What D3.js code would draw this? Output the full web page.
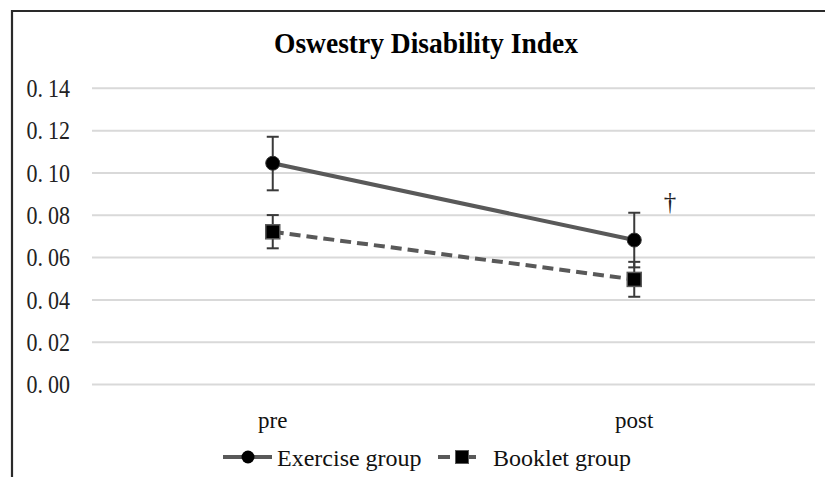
<!DOCTYPE html>
<html>
<head>
<meta charset="utf-8">
<script src="https://cdn.jsdelivr.net/npm/d3@7/dist/d3.min.js"></script>
<style>
  html, body { margin: 0; padding: 0; background: #fff; }
  svg { display: block; }
</style>
</head>
<body>
<svg id="chart" width="825" height="477"></svg>
<script>
// Time points and group means with error ranges
const phases = ["pre", "post"];
const exerciseMean = [0.1046, 0.0683];
const exerciseLow  = [0.0918, 0.0554];
const exerciseHigh = [0.1171, 0.0812];
const bookletMean  = [0.0722, 0.0497];
const bookletLow   = [0.0644, 0.0415];
const bookletHigh  = [0.0801, 0.0580];
const yTicks = [0.00, 0.02, 0.04, 0.06, 0.08, 0.10, 0.12, 0.14];
const seriesNames = ["Exercise group", "Booklet group"];

const svg = d3.select("#chart");
const serif = "'Liberation Serif', 'Times New Roman', serif";

// outer frame (top and left edges)
svg.append("path")
  .attr("d", "M12,477 L12,11 L825,11")
  .attr("fill", "none").attr("stroke", "#2a2a2a").attr("stroke-width", 2.2);

svg.append("text")
  .attr("x", 426).attr("y", 53)
  .attr("text-anchor", "middle")
  .attr("font-family", serif).attr("font-weight", "bold").attr("font-size", 27.5)
  .attr("fill", "#000")
  .attr("transform", "translate(426,53) scale(1,1.08) translate(-426,-53)")
  .text("Oswestry Disability Index");

const x = d3.scaleBand().domain(phases).range([92, 815]);
const y = d3.scaleLinear().domain([0, 0.14]).range([384.6, 88.3]);
const cx = d => x(d) + x.bandwidth() / 2;

// gridlines
svg.append("g").selectAll("line").data(yTicks).join("line")
  .attr("x1", 92).attr("x2", 815)
  .attr("y1", d => y(d)).attr("y2", d => y(d))
  .attr("stroke", "#d9d9d9").attr("stroke-width", 2);

// y axis labels
const yAxis = d3.axisLeft(y).tickValues(yTicks).tickSize(0).tickPadding(0)
  .tickFormat(d3.format(".2f"));
const gy = svg.append("g").attr("transform", "translate(70,0)").call(yAxis);
gy.select(".domain").remove();
gy.selectAll(".tick text")
  .attr("font-family", serif).attr("font-size", 22).attr("fill", "#222")
  .attr("dy", "0.33em")
  .attr("transform", "scale(1,1.12)")
  .each(function () {
    const s = d3.select(this).text();
    const [a, b] = s.split(".");
    const t = d3.select(this).text(null);
    t.append("tspan").text(a + ".");
    t.append("tspan").attr("dx", 5).text(b);
  });

// x axis labels
const xAxis = d3.axisBottom(x).tickSize(0).tickPadding(0);
const gx = svg.append("g").attr("transform", "translate(0,412)").call(xAxis);
gx.select(".domain").remove();
gx.selectAll("text")
  .attr("font-family", serif).attr("font-size", 23).attr("fill", "#111")
  .attr("dy", "0.7em");

const exercise = phases.map((p, i) => ({ p, m: exerciseMean[i], lo: exerciseLow[i], hi: exerciseHigh[i] }));
const booklet  = phases.map((p, i) => ({ p, m: bookletMean[i], lo: bookletLow[i], hi: bookletHigh[i] }));

const line = d3.line().x(d => cx(d.p)).y(d => y(d.m));

svg.append("path").datum(booklet).attr("d", line)
  .attr("fill", "none").attr("stroke", "#595959").attr("stroke-width", 4)
  .attr("stroke-dasharray", "11,6");
svg.append("path").datum(exercise).attr("d", line)
  .attr("fill", "none").attr("stroke", "#595959").attr("stroke-width", 4);

function errorBars(data) {
  const g = svg.append("g").attr("stroke", "#3a3a3a").attr("stroke-width", 2);
  data.forEach(d => {
    const px = cx(d.p);
    g.append("line").attr("x1", px).attr("x2", px).attr("y1", y(d.hi)).attr("y2", y(d.lo));
    g.append("line").attr("x1", px - 6).attr("x2", px + 6).attr("y1", y(d.hi)).attr("y2", y(d.hi));
    g.append("line").attr("x1", px - 6).attr("x2", px + 6).attr("y1", y(d.lo)).attr("y2", y(d.lo));
  });
}
errorBars(booklet);
errorBars(exercise);

// markers
svg.append("g").selectAll("rect").data(booklet).join("rect")
  .attr("x", d => cx(d.p) - 7).attr("y", d => y(d.m) - 7)
  .attr("width", 14).attr("height", 14)
  .attr("fill", "#000").attr("stroke", "#595959").attr("stroke-width", 1.5);
svg.append("g").selectAll("circle").data(exercise).join("circle")
  .attr("cx", d => cx(d.p)).attr("cy", d => y(d.m)).attr("r", 7)
  .attr("fill", "#000").attr("stroke", "#333").attr("stroke-width", 1);

// significance mark
svg.append("text")
  .attr("x", 670).attr("y", 210)
  .attr("text-anchor", "middle")
  .attr("font-family", serif).attr("font-size", 25).attr("fill", "#222")
  .text("†");

// legend
const lg = svg.append("g");
lg.append("line").attr("x1", 223).attr("x2", 272).attr("y1", 457).attr("y2", 457)
  .attr("stroke", "#595959").attr("stroke-width", 4);
lg.append("circle").attr("cx", 248).attr("cy", 457).attr("r", 6.5).attr("fill", "#000");
lg.append("text").attr("x", 277).attr("y", 466)
  .attr("font-family", serif).attr("font-size", 24).attr("fill", "#111")
  .text(seriesNames[0]);

lg.append("line").attr("x1", 438).attr("x2", 488).attr("y1", 457).attr("y2", 457)
  .attr("stroke", "#595959").attr("stroke-width", 4).attr("stroke-dasharray", "12,14");
lg.append("rect").attr("x", 455.5).attr("y", 450.5).attr("width", 13).attr("height", 13)
  .attr("fill", "#000").attr("stroke", "#595959").attr("stroke-width", 1);
lg.append("text").attr("x", 493).attr("y", 466)
  .attr("font-family", serif).attr("font-size", 24).attr("fill", "#111")
  .text(seriesNames[1]);
</script>
</body>
</html>
